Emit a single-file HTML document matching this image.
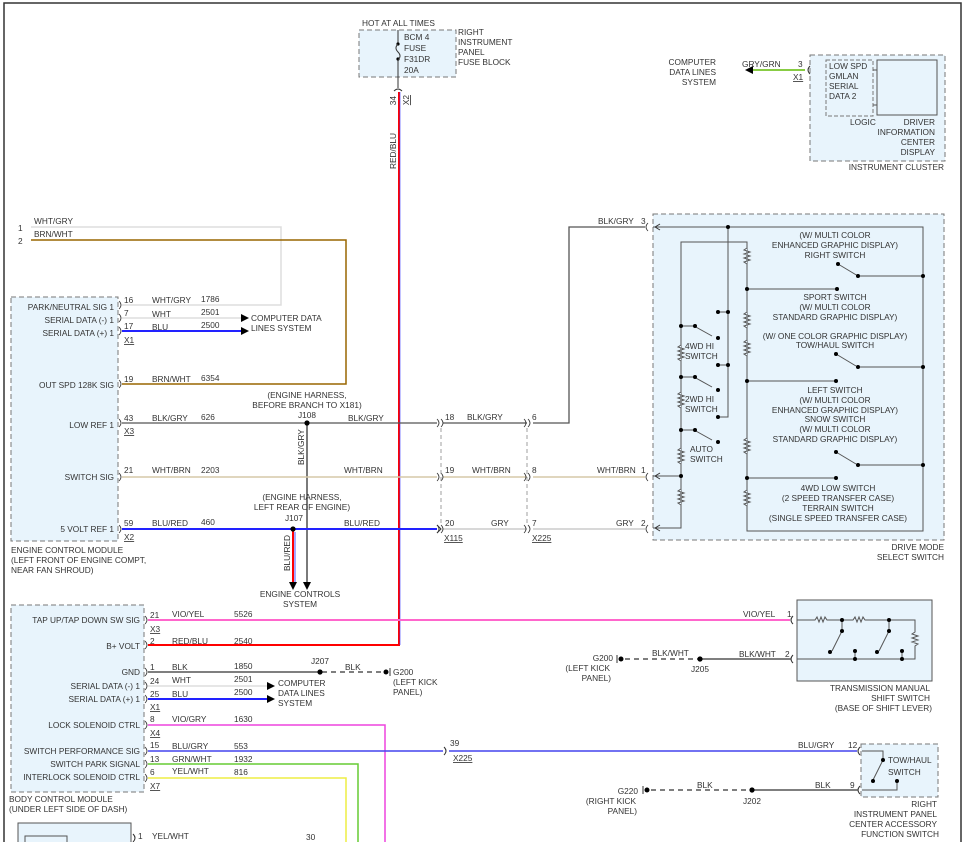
<!DOCTYPE html>
<html><head><meta charset="utf-8"><style>
html,body{margin:0;padding:0;background:#fff}
svg{display:block}
text{font-family:"Liberation Sans",sans-serif;font-size:8.3px;fill:#333}
.r{text-anchor:end}.m{text-anchor:middle}
</style></head><body>
<svg width="966" height="842" viewBox="0 0 966 842" xmlns="http://www.w3.org/2000/svg">
<!-- frame -->
<path d="M4,842V3H961V842" fill="none" stroke="#333" stroke-width="1.5"/>

<!-- fuse block -->
<rect x="359" y="30" width="97" height="47" fill="#e8f4fc" stroke="#777" stroke-dasharray="5,3"/>
<text x="362" y="26">HOT AT ALL TIMES</text>
<text x="404" y="40">BCM 4</text><text x="404" y="51">FUSE</text><text x="404" y="62">F31DR</text><text x="404" y="73">20A</text>
<text x="458" y="35">RIGHT</text><text x="458" y="45">INSTRUMENT</text><text x="458" y="55">PANEL</text><text x="458" y="65">FUSE BLOCK</text>
<path d="M398,30V43M398,60V88" stroke="#333"/><circle cx="398" cy="44" r="1.6"/><circle cx="398" cy="59" r="1.6"/>
<path d="M398,44q-4,4 0,8q4,4 0,8" fill="none" stroke="#333"/>
<path d="M394,91q4,-4 8,0" fill="none" stroke="#333"/>
<text transform="translate(396,96) rotate(-90)" class="r">34</text>
<text transform="translate(409,95) rotate(-90)" class="r" text-decoration="underline">X2</text>
<text transform="translate(396,133) rotate(-90)" class="r">RED/BLU</text>
<path d="M399,92V645H148" fill="none" stroke="#f00" stroke-width="2"/>
<path d="M400,92V645" stroke="#33f" stroke-width="0.6"/>

<!-- instrument cluster -->
<rect x="810" y="55" width="135" height="106" fill="#e8f4fc" stroke="#777" stroke-dasharray="5,3"/>
<rect x="826" y="60" width="47" height="56" fill="none" stroke="#777" stroke-dasharray="4,2"/>
<rect x="877" y="60" width="60" height="55" fill="#e8f4fc" stroke="#555"/>
<path d="M873,70H877M873,105H877" stroke="#555"/>
<text x="829" y="69">LOW SPD</text><text x="829" y="79">GMLAN</text><text x="829" y="89">SERIAL</text><text x="829" y="99">DATA 2</text>
<text x="850" y="125">LOGIC</text>
<text x="935" y="125" class="r">DRIVER</text><text x="935" y="135" class="r">INFORMATION</text><text x="935" y="145" class="r">CENTER</text><text x="935" y="155" class="r">DISPLAY</text>
<text x="944" y="170" class="r">INSTRUMENT CLUSTER</text>
<path d="M752,70H805" stroke="#8c4" stroke-width="2"/><path d="M745,70l8,-4v8z" fill="#000"/>
<path d="M810,66q-4,4 0,8" fill="none" stroke="#333"/>
<text x="742" y="67">GRY/GRN</text><text x="798" y="67">3</text><text x="793" y="80" text-decoration="underline">X1</text>
<text x="716" y="65" class="r">COMPUTER</text><text x="716" y="75" class="r">DATA LINES</text><text x="716" y="85" class="r">SYSTEM</text>

<!-- top left wires -->
<text x="18" y="231">1</text><text x="18" y="244">2</text>
<text x="34" y="224">WHT/GRY</text><text x="34" y="237">BRN/WHT</text>
<path d="M31,227H281V305H122" fill="none" stroke="#ddd" stroke-width="1.5"/>
<path d="M31,240H346V384H122" fill="none" stroke="#960" stroke-width="1.5"/>

<!-- ECM -->
<rect x="11" y="297" width="107" height="244" fill="#e8f4fc" stroke="#777" stroke-dasharray="5,3"/>
<text x="114" y="310" class="r">PARK/NEUTRAL SIG 1</text>
<text x="114" y="323" class="r">SERIAL DATA (-) 1</text>
<text x="114" y="336" class="r">SERIAL DATA (+) 1</text>
<text x="114" y="388" class="r">OUT SPD 128K SIG</text>
<text x="114" y="428" class="r">LOW REF 1</text>
<text x="114" y="480" class="r">SWITCH SIG</text>
<text x="114" y="532" class="r">5 VOLT REF 1</text>
<text x="11" y="553">ENGINE CONTROL MODULE</text><text x="11" y="563">(LEFT FRONT OF ENGINE COMPT,</text><text x="11" y="573">NEAR FAN SHROUD)</text>
<g fill="none" stroke="#333" stroke-width="0.8">
<path d="M119,301q4,4 0,8M119,314q4,4 0,8M119,327q4,4 0,8M119,380q4,4 0,8M119,419q4,4 0,8M119,473q4,4 0,8M119,525q4,4 0,8"/>
</g>
<text x="124" y="303">16</text><text x="152" y="303">WHT/GRY</text><text x="201" y="302">1786</text>
<text x="124" y="316">7</text><text x="152" y="317">WHT</text><text x="201" y="315">2501</text>
<text x="124" y="329">17</text><text x="152" y="330">BLU</text><text x="201" y="328">2500</text>
<text x="124" y="343" text-decoration="underline">X1</text>
<path d="M122,318H244" stroke="#ddd" stroke-width="1.5"/><path d="M241,314l8,4l-8,4z"/>
<path d="M122,331H244" stroke="#22f" stroke-width="2"/><path d="M241,327l8,4l-8,4z"/>
<text x="251" y="321">COMPUTER DATA</text><text x="251" y="331">LINES SYSTEM</text>
<text x="124" y="382">19</text><text x="152" y="382">BRN/WHT</text><text x="201" y="381">6354</text>
<text x="124" y="421">43</text><text x="152" y="421">BLK/GRY</text><text x="201" y="420">626</text>
<text x="124" y="434" text-decoration="underline">X3</text>
<text x="124" y="473">21</text><text x="152" y="473">WHT/BRN</text><text x="201" y="473">2203</text>
<text x="124" y="526">59</text><text x="152" y="526">BLU/RED</text><text x="201" y="525">460</text>
<text x="124" y="540" text-decoration="underline">X2</text>

<text x="307" y="398" class="m">(ENGINE HARNESS,</text><text x="307" y="408" class="m">BEFORE BRANCH TO X181)</text>
<text x="307" y="418" class="m">J108</text>
<text x="302" y="500" class="m">(ENGINE HARNESS,</text><text x="302" y="510" class="m">LEFT REAR OF ENGINE)</text>
<text x="294" y="521" class="m">J107</text>
<path d="M122,423H437" stroke="#555" stroke-width="1.3"/>
<path d="M443,423H527M533,423H569V227H645" fill="none" stroke="#555" stroke-width="1.3"/>
<path d="M307,423V582" stroke="#333" stroke-width="1.3"/><path d="M303,582l4,8l4,-8z"/>
<text transform="translate(304,465) rotate(-90)">BLK/GRY</text>
<circle cx="307" cy="423" r="2.6"/>
<path d="M122,477H437M443,477H527M533,477H645" stroke="#d6c9a8" stroke-width="1.5"/>
<path d="M122,529H437" stroke="#22f" stroke-width="2"/>
<path d="M437,525l4,4l-4,4" fill="none" stroke="#333"/>
<path d="M443,529H527M533,529H645" stroke="#ccc" stroke-width="1.5"/>
<path d="M293,529V582" stroke="#f00" stroke-width="2"/><path d="M295,532V582" stroke="#22f" stroke-width="0.8"/>
<path d="M289,582l4,8l4,-8z"/>
<text transform="translate(290,571) rotate(-90)">BLU/RED</text>
<circle cx="293" cy="529" r="2.6"/>
<text x="348" y="421">BLK/GRY</text><text x="344" y="473">WHT/BRN</text><text x="344" y="526">BLU/RED</text>
<text x="300" y="597" class="m">ENGINE CONTROLS</text><text x="300" y="607" class="m">SYSTEM</text>
<!-- X115 / X225 -->
<g fill="none" stroke="#333" stroke-width="0.8">
<path d="M437,419q4,4 0,8M441,419q4,4 0,8M437,473q4,4 0,8M441,473q4,4 0,8M437,525q4,4 0,8M441,525q4,4 0,8"/>
<path d="M524,419q4,4 0,8M528,419q4,4 0,8M524,473q4,4 0,8M528,473q4,4 0,8M524,525q4,4 0,8M528,525q4,4 0,8"/>
<path d="M648,223q-4,4 0,8M648,473q-4,4 0,8M648,525q-4,4 0,8"/>
</g>
<path d="M441,428V525M527,428V525" stroke="#888" stroke-dasharray="4,3" stroke-width="0.8"/>
<text x="445" y="420">18</text><text x="467" y="420">BLK/GRY</text>
<text x="445" y="473">19</text><text x="472" y="473">WHT/BRN</text>
<text x="445" y="526">20</text><text x="491" y="526">GRY</text>
<text x="444" y="541" text-decoration="underline">X115</text>
<text x="532" y="420">6</text><text x="532" y="473">8</text><text x="532" y="526">7</text>
<text x="532" y="541" text-decoration="underline">X225</text>
<text x="598" y="224">BLK/GRY</text><text x="641" y="224">3</text>
<text x="597" y="473">WHT/BRN</text><text x="641" y="473">1</text>
<text x="616" y="526">GRY</text><text x="641" y="526">2</text>

<!-- drive mode select switch -->
<rect x="653" y="214" width="291" height="326" fill="#e8f4fc" stroke="#777" stroke-dasharray="5,3"/>
<g fill="none" stroke="#555" stroke-width="1">
<path d="M653,227H923V531H747V242H681V528H653"/>
<path d="M653,476H681"/>
<path d="M728,227V417H718"/>
<path d="M718,312H728M718,365H728"/>
<path d="M747,289H837M747,381H836M747,478H836"/>
<path d="M858,276H923M858,367H923M858,465H923"/>
<path d="M681,326H694l18,10M681,377H694l18,10M681,430H694l18,10"/>
<path d="M838,264l20,12M836,354l20,12M836,452l20,12"/>
</g>
<g fill="#e8f4fc" stroke="#555" stroke-width="1">
<path d="M747,248l-3,2l6,2l-6,2l6,2l-6,2l6,2l-6,2l3,2"/>
<path d="M747,312l-3,2l6,2l-6,2l6,2l-6,2l6,2l-6,2l3,2"/>
<path d="M747,340l-3,2l6,2l-6,2l6,2l-6,2l6,2l-6,2l3,2"/>
<path d="M747,438l-3,2l6,2l-6,2l6,2l-6,2l6,2l-6,2l3,2"/>
<path d="M747,490l-3,2l6,2l-6,2l6,2l-6,2l6,2l-6,2l3,2"/>
<path d="M681,345l-3,2l6,2l-6,2l6,2l-6,2l6,2l-6,2l3,2"/>
<path d="M681,392l-3,2l6,2l-6,2l6,2l-6,2l6,2l-6,2l3,2"/>
<path d="M681,448l-3,2l6,2l-6,2l6,2l-6,2l6,2l-6,2l3,2"/>
<path d="M681,489l-3,2l6,2l-6,2l6,2l-6,2l6,2l-6,2l3,2"/>
</g>
<g fill="#000">
<circle cx="728" cy="227" r="2"/><circle cx="923" cy="276" r="2"/><circle cx="923" cy="367" r="2"/><circle cx="923" cy="465" r="2"/>
<circle cx="747" cy="289" r="2"/><circle cx="837" cy="289" r="2"/><circle cx="747" cy="381" r="2"/><circle cx="836" cy="381" r="2"/><circle cx="747" cy="478" r="2"/><circle cx="836" cy="478" r="2"/>
<circle cx="838" cy="264" r="2"/><circle cx="858" cy="276" r="2"/><circle cx="836" cy="354" r="2"/><circle cx="858" cy="367" r="2"/><circle cx="836" cy="452" r="2"/><circle cx="858" cy="465" r="2"/>
<circle cx="681" cy="326" r="2"/><circle cx="695" cy="326" r="2"/><circle cx="718" cy="338" r="2"/>
<circle cx="681" cy="377" r="2"/><circle cx="695" cy="377" r="2"/><circle cx="718" cy="390" r="2"/>
<circle cx="681" cy="430" r="2"/><circle cx="695" cy="430" r="2"/><circle cx="718" cy="442" r="2"/>
<circle cx="681" cy="476" r="2"/><circle cx="718" cy="312" r="2"/><circle cx="728" cy="312" r="2"/><circle cx="718" cy="365" r="2"/><circle cx="728" cy="365" r="2"/><circle cx="718" cy="417" r="2"/>
</g>
<path d="M655,227l5,-3M655,227l5,3M655,476l5,-3M655,476l5,3M655,528l5,-3M655,528l5,3" stroke="#333"/>
<text x="835" y="238" class="m">(W/ MULTI COLOR</text><text x="835" y="248" class="m">ENHANCED GRAPHIC DISPLAY)</text><text x="835" y="258" class="m">RIGHT SWITCH</text>
<text x="835" y="300" class="m">SPORT SWITCH</text><text x="835" y="310" class="m">(W/ MULTI COLOR</text><text x="835" y="320" class="m">STANDARD GRAPHIC DISPLAY)</text>
<text x="835" y="339" class="m">(W/ ONE COLOR GRAPHIC DISPLAY)</text><text x="835" y="348" class="m">TOW/HAUL SWITCH</text>
<text x="835" y="393" class="m">LEFT SWITCH</text><text x="835" y="403" class="m">(W/ MULTI COLOR</text><text x="835" y="413" class="m">ENHANCED GRAPHIC DISPLAY)</text><text x="835" y="422" class="m">SNOW SWITCH</text><text x="835" y="432" class="m">(W/ MULTI COLOR</text><text x="835" y="442" class="m">STANDARD GRAPHIC DISPLAY)</text>
<text x="838" y="491" class="m">4WD LOW SWITCH</text><text x="838" y="501" class="m">(2 SPEED TRANSFER CASE)</text><text x="838" y="511" class="m">TERRAIN SWITCH</text><text x="838" y="521" class="m">(SINGLE SPEED TRANSFER CASE)</text>
<text x="685" y="349">4WD HI</text><text x="685" y="359">SWITCH</text>
<text x="685" y="402">2WD HI</text><text x="685" y="412">SWITCH</text>
<text x="690" y="452">AUTO</text><text x="690" y="462">SWITCH</text>
<text x="944" y="550" class="r">DRIVE MODE</text><text x="944" y="560" class="r">SELECT SWITCH</text>

<!-- BCM -->
<rect x="11" y="605" width="133" height="187" fill="#e8f4fc" stroke="#777" stroke-dasharray="5,3"/>
<text x="140" y="623" class="r">TAP UP/TAP DOWN SW SIG</text>
<text x="140" y="649" class="r">B+ VOLT</text>
<text x="140" y="675" class="r">GND</text>
<text x="140" y="689" class="r">SERIAL DATA (-) 1</text>
<text x="140" y="702" class="r">SERIAL DATA (+) 1</text>
<text x="140" y="728" class="r">LOCK SOLENOID CTRL</text>
<text x="140" y="754" class="r">SWITCH PERFORMANCE SIG</text>
<text x="140" y="767" class="r">SWITCH PARK SIGNAL</text>
<text x="140" y="780" class="r">INTERLOCK SOLENOID CTRL</text>
<text x="9" y="802">BODY CONTROL MODULE</text><text x="9" y="812">(UNDER LEFT SIDE OF DASH)</text>
<g fill="none" stroke="#333" stroke-width="0.8">
<path d="M145,616q4,4 0,8M145,641q4,4 0,8M145,668q4,4 0,8M145,682q4,4 0,8M145,695q4,4 0,8M145,721q4,4 0,8M145,747q4,4 0,8M145,760q4,4 0,8M145,774q4,4 0,8"/>
</g>
<text x="150" y="618">21</text><text x="172" y="617">VIO/YEL</text><text x="234" y="617">5526</text>
<text x="150" y="632" text-decoration="underline">X3</text>
<text x="150" y="644">2</text><text x="172" y="644">RED/BLU</text><text x="234" y="644">2540</text>
<text x="150" y="670">1</text><text x="172" y="670">BLK</text><text x="234" y="669">1850</text>
<text x="150" y="684">24</text><text x="172" y="683">WHT</text><text x="234" y="682">2501</text>
<text x="150" y="697">25</text><text x="172" y="697">BLU</text><text x="234" y="695">2500</text>
<text x="150" y="710" text-decoration="underline">X1</text>
<text x="150" y="722">8</text><text x="172" y="722">VIO/GRY</text><text x="234" y="722">1630</text>
<text x="150" y="736" text-decoration="underline">X4</text>
<text x="150" y="748">15</text><text x="172" y="749">BLU/GRY</text><text x="234" y="749">553</text>
<text x="150" y="762">13</text><text x="172" y="762">GRN/WHT</text><text x="234" y="762">1932</text>
<text x="150" y="775">6</text><text x="172" y="774">YEL/WHT</text><text x="234" y="775">816</text>
<text x="150" y="789" text-decoration="underline">X7</text>

<path d="M148,620H790" stroke="#f6c" stroke-width="2"/>
<path d="M148,672H318" stroke="#555" stroke-width="1.5"/>
<path d="M322,672H385" stroke="#555" stroke-width="1.5" stroke-dasharray="5,4"/>
<circle cx="320" cy="672" r="2.6"/><circle cx="386" cy="672" r="2.5"/><path d="M390,668V676" stroke="#333"/>
<text x="320" y="664" class="m">J207</text><text x="345" y="670">BLK</text>
<text x="393" y="675">G200</text><text x="393" y="685">(LEFT KICK</text><text x="393" y="695">PANEL)</text>
<path d="M148,686H269" stroke="#ddd" stroke-width="1.5"/><path d="M267,682l8,4l-8,4z"/>
<path d="M148,699H269" stroke="#22f" stroke-width="2"/><path d="M267,695l8,4l-8,4z"/>
<text x="278" y="686">COMPUTER</text><text x="278" y="696">DATA LINES</text><text x="278" y="706">SYSTEM</text>
<path d="M148,725H385V842" fill="none" stroke="#e4d" stroke-width="1.5"/>
<path d="M148,751H443M449,751H857" stroke="#44e" stroke-width="1.5"/>
<path d="M444,747q4,4 0,8" fill="none" stroke="#333"/>
<text x="450" y="746">39</text><text x="453" y="761" text-decoration="underline">X225</text>
<path d="M148,764H358V842" fill="none" stroke="#6c3" stroke-width="1.5"/>
<path d="M148,778H346V842" fill="none" stroke="#ee4" stroke-width="1.5"/>

<!-- transmission manual shift switch -->
<rect x="797" y="600" width="135" height="81" fill="#e8f4fc" stroke="#555"/>
<text x="743" y="617">VIO/YEL</text><text x="787" y="617">1</text>
<text x="739" y="657">BLK/WHT</text><text x="785" y="657">2</text>
<path d="M793,616q-4,4 0,8M793,655q-4,4 0,8" fill="none" stroke="#333"/>
<g fill="none" stroke="#555">
<path d="M797,620H815l2,-3l2,5l2,-5l2,5l2,-5l2,3H853l2,-3l2,5l2,-5l2,5l2,-5l2,3H915V632l-3,2l6,2l-6,2l6,2l-6,2l6,2l-3,2V659H797"/>
<path d="M842,620V631l-10,20M889,620V631l-10,20M855,651V659M902,651V659"/>
</g>
<g fill="#000"><circle cx="842" cy="620" r="2"/><circle cx="842" cy="631" r="2"/><circle cx="830" cy="652" r="2"/><circle cx="855" cy="651" r="2"/><circle cx="855" cy="659" r="2"/><circle cx="889" cy="620" r="2"/><circle cx="889" cy="631" r="2"/><circle cx="877" cy="652" r="2"/><circle cx="902" cy="651" r="2"/><circle cx="902" cy="659" r="2"/></g>
<text x="930" y="691" class="r">TRANSMISSION MANUAL</text><text x="930" y="701" class="r">SHIFT SWITCH</text><text x="932" y="711" class="r">(BASE OF SHIFT LEVER)</text>
<path d="M700,659H791" stroke="#555" stroke-width="1.5"/>
<path d="M625,659H698" stroke="#555" stroke-width="1.5" stroke-dasharray="5,4"/>
<circle cx="700" cy="659" r="2.6"/><circle cx="621" cy="659" r="2.5"/><path d="M617,655V663" stroke="#333"/>
<text x="700" y="672" class="m">J205</text><text x="652" y="656">BLK/WHT</text>
<text x="613" y="661" class="r">G200</text><text x="610" y="671" class="r">(LEFT KICK</text><text x="611" y="681" class="r">PANEL)</text>

<!-- tow/haul switch -->
<rect x="861" y="744" width="77" height="53" fill="#e8f4fc" stroke="#777" stroke-dasharray="5,3"/>
<text x="798" y="748">BLU/GRY</text><text x="848" y="748">12</text>
<text x="815" y="788">BLK</text><text x="850" y="788">9</text>
<path d="M860,747q-4,4 0,8M860,786q-4,4 0,8" fill="none" stroke="#333"/>
<g fill="none" stroke="#555"><path d="M862,751H883V760l-10,20M862,790H897V781"/></g>
<g fill="#000"><circle cx="883" cy="760" r="2"/><circle cx="873" cy="781" r="2"/><circle cx="897" cy="781" r="2"/></g>
<text x="888" y="763">TOW/HAUL</text>
<text x="888" y="775">SWITCH</text>
<text x="937" y="807" class="r">RIGHT</text><text x="937" y="817" class="r">INSTRUMENT PANEL</text><text x="937" y="827" class="r">CENTER ACCESSORY</text><text x="939" y="837" class="r">FUNCTION SWITCH</text>
<path d="M752,790H858" stroke="#555" stroke-width="1.5"/>
<path d="M651,790H750" stroke="#555" stroke-width="1.5" stroke-dasharray="5,4"/>
<circle cx="752" cy="790" r="2.6"/><circle cx="647" cy="790" r="2.5"/><path d="M643,786V794" stroke="#333"/>
<text x="752" y="804" class="m">J202</text><text x="697" y="788">BLK</text>
<text x="638" y="794" class="r">G220</text><text x="636" y="804" class="r">(RIGHT KICK</text><text x="637" y="814" class="r">PANEL)</text>

<!-- bottom partial -->
<rect x="18" y="823" width="113" height="30" fill="#e8f4fc" stroke="#555"/>
<rect x="25" y="836" width="42" height="20" fill="none" stroke="#555"/>
<path d="M133,834q4,4 0,8" fill="none" stroke="#333"/>
<text x="138" y="839">1</text><text x="152" y="839">YEL/WHT</text><text x="306" y="840">30</text>
</svg>
</body></html>
